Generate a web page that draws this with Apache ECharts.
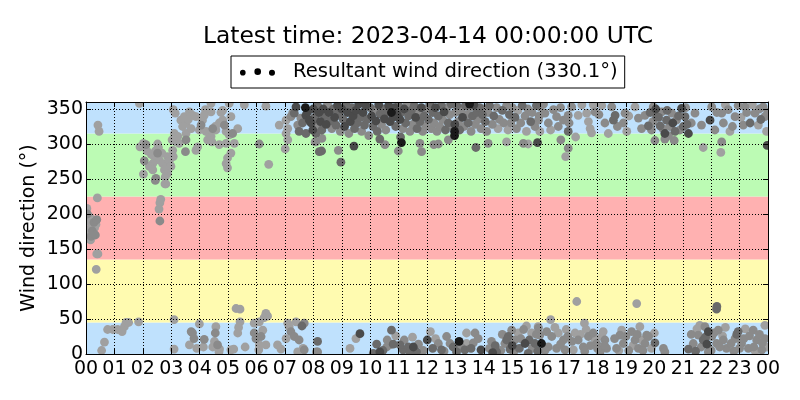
<!DOCTYPE html>
<html>
<head>
<meta charset="utf-8">
<script src="https://cdn.jsdelivr.net/npm/echarts@6/dist/echarts.min.js"></script>
<style>html,body{margin:0;padding:0;background:#fff;}#c{width:800px;height:400px;}</style>
</head>
<body>
<div id="c"></div>
<script>
// ---------- data ----------
const titleText = 'Latest time: 2023-04-14 00:00:00 UTC';
const seriesName = 'Resultant wind direction (330.1°)';
const xTickLabels = ['00','01','02','03','04','05','06','07','08','09','10','11','12','13','14','15','16','17','18','19','20','21','22','23','00'];
const yTicks = [0,50,100,150,200,250,300,350];
// direction sectors [from, to] in degrees
const bandLows  = [0, 45, 135, 225, 315];
const bandHighs = [45, 135, 225, 315, 360];

// points [hour, direction] grouped by marker shade
const ptsLight = [
 [0.42,327],[0.46,318],[0.03,208],[0.08,190],[0.12,178],[0.05,176],[0.2,182],[0.3,180],[0.15,195],[0.1,165],[0.35,185],[0.16,163],[0.25,172],
 [0.4,223],[0.38,143],[0.42,143],[0.36,121],
 [0.65,17],[0.55,5],[0.76,35],[0.94,35],[1.11,35],[1.27,32],[1.35,39],[1.41,45],[1.5,45],[1.85,46],[1.88,358],
 [2.02,301],[1.9,296],[2.52,300],[2.44,290],[2.4,282],[2.58,277],[2.35,272],[2.23,268],[2.7,272],[2.87,282],[2.93,275],[2.81,268],[2.76,263],[2.87,258],[2.79,253],[2.81,243],[2.02,257],[2.35,263],[2.67,287],[3.05,291],[3.07,282],[2.99,268],[2.78,243],[2.63,221],[2.6,216],[2.57,207],[2.3,285],[2.55,295],[2.15,290],
 [3.07,349],[3.14,344],[3.11,315],[3.03,306],[3.17,303],[3.34,334],[3.46,339],[3.64,346],[3.75,341],[3.87,339],[3.52,330],[3.4,325],[3.52,315],[3.23,311],[3.28,301],[3.87,291],[3.93,296],[4.1,334],[3.99,320],[4.22,318],[4.34,315],[4.4,311],[4.43,303],[4.28,306],[4.4,346],[4.2,349],[4.4,358],[4.16,341],[4.57,320],[4.69,330],
 [4.75,345],[4.81,334],[4.93,318],[5.04,313],[5.34,322],[5.22,301],[4.93,301],[4.69,299],[5.1,287],[4.98,280],[4.93,272],[4.98,266],[5.1,339],[5.57,356],[5.04,358],[4.81,348],[3.6,335],[3.7,322],[4.55,325],
 [6.43,271],[6.33,354],[6.8,327],[7.04,334],[7.1,322],[7.04,315],[7.01,293],[7.1,306],
 [3.1,49],[3.1,7],[3.99,43],[3.64,13],[3.9,8],[4.13,10],[4.57,39],[4.52,18],[4.46,10],[4.7,7],[4.68,3],[5.1,6],[5.2,7],[5.6,10],[5.28,65],[5.42,64],[5.42,46],[5.37,38],[5.34,30],[5.92,44],[6.1,46],[6.33,58],[6.39,54],[6.27,52],[6.22,34],[6.1,13],[6.08,6],[6.33,13],[6.74,13],[6.86,7],[7.04,22],[7.15,39],[7.39,46],[7.1,44],[7.45,3],[7.64,8],
 [9.29,8],[9.5,22],[10.9,26],[10.7,13],[11.49,24],[12.12,32],[13.39,30],[13.39,15],[15.21,30],[15.5,40],[15.68,30],[15.91,39],[12.3,22],
 [8.06,303],[14.8,303],[15.56,300],[15.97,318],[14.5,322],[14.85,320],[15.2,348],[15.5,318],
 [16.88,282],[17.23,310],[17.79,316],[21.72,295],[22.34,288],[17.32,341],[17.62,344],[17.68,332],[17.74,322],[17.85,356],[18.38,315],[19.03,318],[19.32,353],[22.66,318],[23.66,327],[23.95,318],[16.35,320],[17.45,356],[18.15,355],[19.1,340],[22.5,356],[23.05,338],[23.45,356],
 [17.27,75],[19.38,72],[16.35,49],[17.54,44],
 [16.62,30],[17.21,30],[18.15,25],[19.49,39],[21.6,41],[23.89,41],[16.5,38],[16.9,35],[17.15,6],[17.4,28],[17.6,35],[17.9,22],[18.2,32],[18.75,5],[18.85,34],[19.25,12],[19.55,20],[19.9,8],[20.0,30],[21.5,36],[22.4,26],[22.5,38],[23.2,36],[23.55,4],[23.95,10]
];
const ptsMid = [
 [0.05,200],[0.18,168],[0.28,188],[0.38,192],[0.22,176],[0.33,170],[2.6,190],
 [2.11,299],[2.52,287],[2.05,276],[2.46,251],[2.44,248],[3.52,306],[3.5,289],[4.05,327],[4.46,322],[4.87,327],[5.16,315],[6.1,300],
 [3.7,32],[3.75,30],[3.8,22],[4.16,21],[4.55,30],[4.63,13],[5.92,30],[5.98,22],[6.16,25],[7.21,32],[7.33,25],[7.5,20],[7.68,6],[7.68,44],[8.15,3],
 [7.27,344],[7.45,327],[7.21,339],[7.56,337],[8.21,344],[8.09,303],
 [8.11,3],[10.58,10],[11.87,5],[12.4,15],[12.69,25],[12.81,15],[13.69,30],[13.63,16],[14.27,18],[14.74,15],[14.98,34],[15.09,20],[15.97,27],
 [10.6,20],[11.2,20],[11.7,14],[12.6,4],[13.2,10],[13.8,22],[14.2,8],[14.6,5],[14.65,28],[15.05,3],[15.3,22],[15.4,35],[15.7,8],[15.85,28],
 [8.88,291],[10.99,290],[11.81,289],[11.75,301],[10.52,299],[12.24,299],[12.4,300],[12.75,306],[14.15,301],[15.39,301],
 [8.1,325],[8.5,357],[8.65,322],[8.95,318],[8.3,308],[9.25,315],[9.7,318],[9.95,312],[10.15,348],[10.4,328],[10.55,320],[11.15,322],[11.3,357],[11.4,318],[11.5,328],[11.7,346],[11.85,318],[11.95,326],
 [12.0,350],[12.15,322],[12.25,330],[12.35,318],[12.45,325],[12.55,335],[12.7,352],[12.8,342],[12.9,325],
 [13.0,345],[13.1,332],[13.2,348],[13.3,325],[13.4,342],[13.5,352],[13.55,318],[13.7,328],[13.8,335],[13.9,322],
 [14.0,350],[14.1,318],[14.15,345],[14.3,328],[14.45,352],[14.55,335],[14.7,330],[14.8,355],[14.95,330],
 [15.0,352],[15.15,322],[15.3,330],[15.45,340],[15.55,350],[15.7,345],[15.8,325],[15.95,340],
 [16.97,294],[16.71,306],[20.02,305],[20.37,307],[20.7,305],[22.37,303],[16.15,344],[16.27,330],[15.92,334],[16.45,349],[16.56,339],[16.62,325],[16.8,334],[16.97,341],[17.09,353],[17.91,346],[18.26,330],[18.5,353],[18.91,330],[18.97,344],[19.44,337],[19.67,341],[19.9,320],[19.96,353],[20.26,346],[20.55,325],[20.61,344],[20.78,334],[21.3,330],[21.43,344],[21.66,327],[22.02,353],[22.13,320],[22.37,344],[22.43,330],[22.6,349],[22.84,339],[23.19,353],[23.13,327],[23.54,344],[23.83,353],[23.89,339],[15.98,353],
 [19.95,332],[20.3,322],[20.5,312],[20.9,320],[21.1,352],[16.1,357],[16.7,352],[17.0,330],[18.05,342],[18.7,325],[19.55,322],[22.2,345],[22.75,325],[22.95,355],[23.25,345],[23.7,350],[23.99,345],
 [15.92,37],[16.21,32],[16.39,25],[16.27,10],[16.8,20],[16.56,8],[16.86,6],[17.32,20],[17.5,10],[17.68,25],[17.85,30],[17.97,15],[18.26,20],[18.32,8],[18.09,3],[18.79,27],[18.91,15],[18.67,8],[19.2,32],[19.32,20],[19.44,8],[19.67,15],[19.73,27],[20.32,8],[20.37,3],[21.37,15],[21.78,39],[21.55,27],[22.02,25],[22.25,34],[22.19,15],[22.43,20],[21.9,3],[22.54,8],[22.84,22],[23.07,15],[23.48,34],[23.6,20],[23.31,8],[23.89,22],[23.78,6],
 [16.15,5],[16.7,14],[16.95,25],[17.1,18],[17.55,4],[17.75,12],[18.0,8],[18.25,12],[18.6,22],[19.0,25],[19.1,5],[19.4,28],[19.6,5],[19.8,25],[21.3,28],[21.65,10],[22.0,5],[22.1,30],[22.3,10],[22.7,15],[22.8,4],[23.0,8],[23.15,22],[23.35,26],[23.5,10],[23.7,28],[23.8,16]
];
const ptsDark = [
 [7.6,40],[8.15,18],[7.33,344],[7.62,330],[7.5,318],[7.74,315],[8.09,315],[8.03,336],[8.21,289],
 [8.29,290],[8.97,274],[10.34,307],[11.07,310],[13.72,295],
 [10.23,14],[10.75,34],[11.16,6],[11.63,3],[12.51,6],[12.92,10],[14.86,25],[11.05,13],[10.81,14],[11.34,10],[13.04,3],[14.45,3],[14.92,7],[13.33,6],[15.56,1],[10.11,1],
 [10.45,5],[11.4,3],[12.2,8],[13.55,8],[14.4,12],[14.8,20],[15.25,8],[15.6,20],[15.8,15],[15.9,4],
 [8.05,338],[8.15,355],[8.3,320],[8.4,340],[8.6,333],[8.7,350],[8.8,327],[8.9,343],
 [9.05,335],[9.15,357],[9.35,352],[9.45,322],[9.55,330],[9.65,338],[9.8,327],[9.9,335],
 [10.0,352],[10.1,325],[10.25,318],[10.35,343],[10.45,350],[10.6,345],[10.9,325],
 [11.0,355],[11.1,345],[11.25,330],[11.35,340],[11.45,348],[11.55,355],[11.65,322],[11.75,332],[11.9,340],
 [12.05,335],[12.1,357],[12.2,345],[12.4,340],[12.5,355],[12.65,320],[12.75,330],[12.85,357],
 [13.05,355],[13.15,320],[13.35,355],[13.45,330],[13.6,340],[13.75,345],[13.85,352],[13.95,342],
 [14.05,332],[14.2,355],[14.35,340],[14.65,348],[14.9,342],[15.1,338],[15.35,355],[15.65,332],[15.85,355],
 [16.97,318],[18.56,334],[18.62,341],[19.79,326],[20.08,339],[20.2,326],[20.43,334],[20.73,318],[21.02,325],[21.08,339],[23.37,330],[19.85,345],[20.15,338],[20.45,348],[20.85,340],[21.15,328],[23.75,335],
 [22.19,64],[22.2,68],
 [20.02,16],[21.2,7],[21.72,20],[22.95,32],[21.45,4],[21.8,24],[22.9,28]
];
const ptsDarker = [
 [7.39,353],[7.74,341],[7.86,334],[7.98,320],[7.92,330],[7.8,346],
 [9.43,297],[15.89,302],[20.37,315],[21.2,315],[21.96,334],[20.96,351],[23.97,298],
 [9.64,29],[10.34,3],[11.52,10],[12.01,20],[14.31,2],[15.45,15],[21.85,14],[21.9,32],[13.9,6],[15.0,12],
 [8.0,350],[8.2,345],[8.25,332],[8.35,350],[8.45,328],[8.55,345],[8.75,338],[8.85,355],
 [9.0,350],[9.1,325],[9.2,345],[9.3,332],[9.4,340],[9.5,348],[9.6,357],[9.75,345],[9.85,355],
 [10.05,340],[10.2,333],[10.3,356],[10.5,336],[10.65,355],[10.7,332],[10.8,338],[10.85,352],[10.95,342],
 [11.05,335],[11.2,350],[11.6,338],[11.8,352],[12.3,352],[12.6,346],[12.98,328],[13.25,338],[13.65,356],
 [20.05,350],[20.65,330]
];
const ptsBlack = [
 [7.72,352],[10.75,345],[11.1,302],[12.97,318],[12.97,312],[13.13,18],[13.5,357],[16.03,15]
];

// ---------- chart ----------
const FONT = 'DejaVu Sans';
const bandColors = ['#bfe1fd', '#fffbb0', '#ffb1b1', '#bcfbb4', '#bfe1fd'];
const shadeColors = ['#a0a0a0', '#8a8a8a', '#6a6a6a', '#4a4a4a', '#1a1a1a'];
const groups = [ptsLight, ptsMid, ptsDark, ptsDarker, ptsBlack];

const chart = echarts.init(document.getElementById('c'), null, {renderer: 'canvas'});

const bandSeries = {
  type: 'custom', name: 'bands', clip: true, z: 1, silent: true,
  data: bandLows.map((lo, i) => [lo, bandHighs[i], i]),
  encode: {y: [0, 1]},
  renderItem: (params, api) => {
    const a = api.coord([0, api.value(1)]);
    const b = api.coord([24, api.value(0)]);
    return {type: 'rect', shape: {x: a[0], y: a[1], width: b[0] - a[0], height: b[1] - a[1]},
            style: {fill: bandColors[api.value(2)]}};
  }
};

const pointSeries = groups.map((pts, gi) => ({
  type: 'custom', name: seriesName, clip: true, z: 2, silent: true,
  data: pts, encode: {x: 0, y: 1},
  renderItem: (params, api) => {
    const p = api.coord([api.value(0), api.value(1)]);
    return {type: 'circle', shape: {cx: p[0], cy: p[1], r: 4.4}, style: {fill: shadeColors[gi]}};
  }
}));

const dotsIcon = 'path://M0.2,5a2.8,2.8 0 1,0 5.6,0a2.8,2.8 0 1,0 -5.6,0Z M14.5,4a3.3,3.3 0 1,0 6.6,0a3.3,3.3 0 1,0 -6.6,0Z M29,5a3,3 0 1,0 6,0a3,3 0 1,0 -6,0Z';

const axisCommon = {
  type: 'value',
  axisLine: {show: true, onZero: false, lineStyle: {color: '#000', width: 1}},
  axisTick: {show: true, inside: true, length: 5, lineStyle: {color: '#000', width: 1}},
  z: 10
};

chart.setOption({
  animation: false,
  backgroundColor: '#fff',
  title: {
    text: titleText, left: 423, top: 20, textAlign: 'center',
    textStyle: {fontFamily: FONT, fontSize: 23.4, fontWeight: 'normal', color: '#000'}
  },
  legend: {
    left: 231, top: 56, padding: [6, 7, 6, 9],
    borderColor: '#000', borderWidth: 1, borderRadius: 0,
    itemWidth: 35, itemHeight: 8, selectedMode: false,
    data: [{name: seriesName, icon: dotsIcon, itemStyle: {color: '#000'}}],
    textStyle: {fontFamily: FONT, fontSize: 19.6, color: '#000', padding: [0, 0, 0, 13]}
  },
  grid: {left: 86, right: 32, top: 102, bottom: 46, containLabel: false},
  xAxis: [
    Object.assign({}, axisCommon, {
      position: 'bottom', min: 0, max: 24, interval: 1,
      axisLabel: {show: true, margin: 6, fontFamily: FONT, fontSize: 19, color: '#000',
                  formatter: v => xTickLabels[Math.round(v)] || ''},
      splitLine: {show: true, lineStyle: {color: '#000', width: 1, type: [1, 2]}}
    }),
    Object.assign({}, axisCommon, {
      position: 'top', min: 0, max: 24, interval: 1,
      axisLabel: {show: false}, splitLine: {show: false}
    })
  ],
  yAxis: [
    Object.assign({}, axisCommon, {
      position: 'left', min: 0, max: 360, interval: 50,
      name: 'Wind direction (°)', nameLocation: 'middle', nameGap: 47, nameRotate: 90,
      nameMoveOverlap: false,
      nameTextStyle: {fontFamily: FONT, fontSize: 19, color: '#000'},
      axisLabel: {show: true, margin: 3, fontFamily: FONT, fontSize: 19, color: '#000',
                  formatter: v => (yTicks.indexOf(v) >= 0 ? String(v) : '')},
      splitLine: {show: true, lineStyle: {color: '#000', width: 1, type: [1, 2]}}
    }),
    Object.assign({}, axisCommon, {
      position: 'right', min: 0, max: 360, interval: 50,
      axisLabel: {show: false}, splitLine: {show: false}
    })
  ],
  series: [bandSeries].concat(pointSeries)
});
</script>
</body>
</html>
